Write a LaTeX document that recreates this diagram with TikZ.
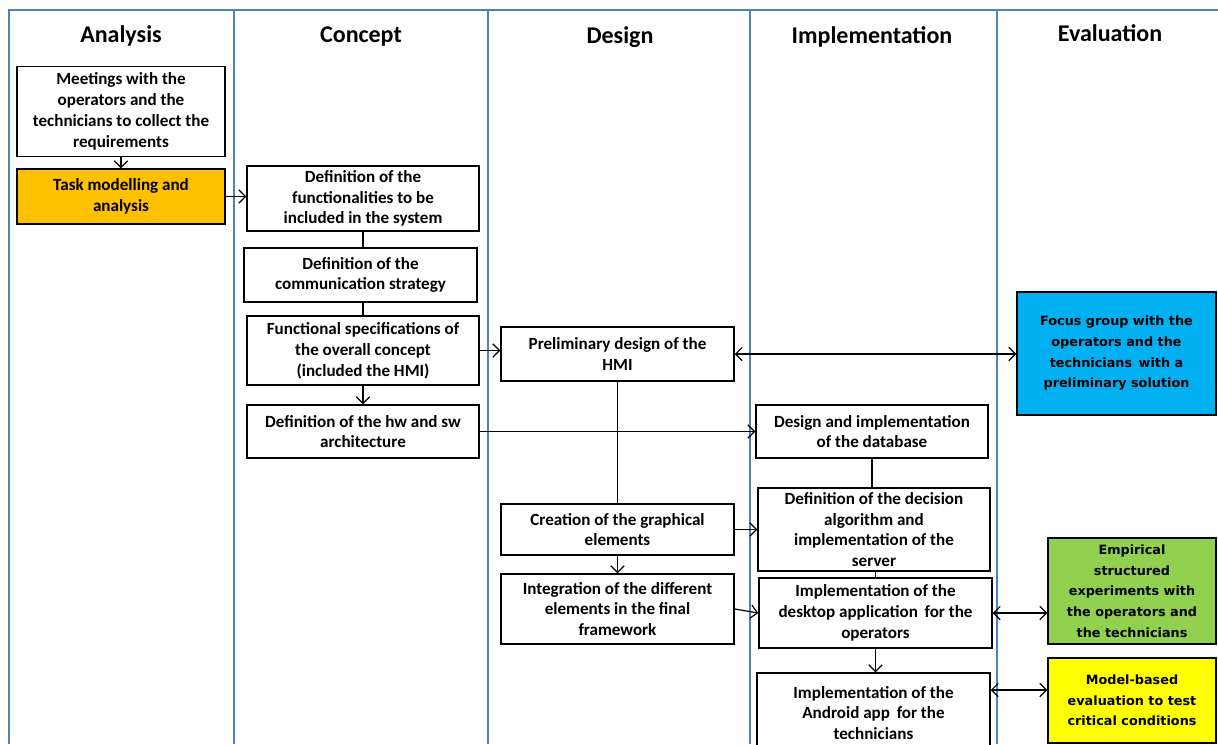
\documentclass[tikz,border=0pt]{standalone}
\usepackage{fontspec}
\setmainfont{Carlito}
\newfontfamily\evalfont{DejaVu Sans}
\usetikzlibrary{arrows.meta,calc}
\definecolor{lane}{RGB}{79,129,189}
\definecolor{orangefill}{HTML}{FFC000}
\definecolor{bluefill}{HTML}{00B0F0}
\definecolor{greenfill}{HTML}{92D050}
\definecolor{yellowfill}{HTML}{FFFF00}
\begin{document}
\begin{tikzpicture}[x=0.75pt,y=-0.75pt,
  sz/.style 2 args={minimum width=#1*0.75pt, minimum height=#2*0.75pt},
  box/.style={draw=black, line width=1.1pt, align=center, inner sep=0pt,
    font=\bfseries\fontsize{12.8}{15.6}\selectfont},
  evbox/.style={draw=black, line width=1.1pt, align=center, inner sep=0pt,
    font=\evalfont\bfseries\fontsize{9.6}{15.5}\selectfont},
  head/.style={font=\bfseries\fontsize{18}{22}\selectfont, inner sep=0pt, anchor=base},
  lanel/.style={draw=lane, line width=1.3pt},
  conn/.style={line width=0.9pt},
  arr/.style={conn, -{Straight Barb[length=5pt,width=10pt]}},
  dbl/.style={conn, {Straight Barb[length=5pt,width=10pt]}-{Straight Barb[length=5pt,width=10pt]}}
]
\useasboundingbox (0,0) rectangle (1218,744);
\fill[white] (0,0) rectangle (1218,744);
\clip (0,0) rectangle (1218,744);

% swim lanes
\draw[lanel] (9,744) -- (9,10) -- (1218,10);
\foreach \xx in {234,488,750,997} \draw[lanel] (\xx,10) -- (\xx,744);

% headers
\node[head] (hA) at (121,42) {Analysis};
\node[head] (hC) at (361,42) {Concept};
\node[head] (hD) at (620,43) {Design};
\node[head] (hI) at (872,43) {Implementation};
\node[head] (hE) at (1110,41) {Evaluation};

% Analysis
\node[box, sz={208}{90}] (meet) at (121,111.5) {Meetings with the\\operators and the\\technicians to collect the\\requirements};
\node[box, sz={208}{55}, fill=orangefill] (task) at (121,196.5) {Task modelling and\\analysis};

% Concept
\node[box, sz={232}{65}] (func) at (363,198.5) {Definition of the\\functionalities to be\\included in the system};
\node[box, sz={233}{54}] (comm) at (360.5,275) {Definition of the\\communication strategy};
\node[box, sz={232}{69}] (spec) at (363,350.5) {Functional specifications of\\the overall concept\\(included the HMI)};
\node[box, sz={232}{53}] (hwsw) at (363,431.5) {Definition of the hw and sw\\architecture};

% Design
\node[box, sz={233}{54}] (prel) at (617.5,354) {Preliminary design of the\\HMI};
\node[box, sz={233}{51}] (crea) at (617.5,529.5) {Creation of the graphical\\elements};
\node[box, sz={233}{70}] (integ) at (617.5,609) {Integration of the different\\elements in the final\\framework};

% Implementation
\node[box, sz={232}{53}] (db) at (872,431.5) {Design and implementation\\of the database};
\node[box, sz={232}{83}] (dec) at (874,529.5) {Definition of the decision\\algorithm and\\implementation of the\\server};
\node[box, sz={233}{70}] (desk) at (875.5,613) {Implementation of the\\desktop application\, for the\\operators};
\node[box, sz={233}{80}] (andr) at (873.5,713) {Implementation of the\\Android app\, for the\\technicians};

% Evaluation
\node[evbox, sz={199}{123}, fill=bluefill] (focus) at (1116.5,353.5) {Focus group with the\\operators and the\\technicians\, with a\\preliminary solution};
\node[evbox, sz={168}{106}, fill=greenfill] (emp) at (1132,591) {Empirical\\structured\\experiments with\\the operators and\\the technicians};
\node[evbox, sz={168}{85}, fill=yellowfill] (model) at (1132,700.5) {Model-based\\evaluation to test\\critical conditions};

% connectors
\draw[arr] (meet) -- (task);
\draw[arr] (task.east) -- (task.east -| func.west);
\draw[conn] (func) -- (comm.north -| func.south);
\draw[conn] (comm.south -| spec.north) -- (spec);
\draw[arr] (spec) -- (hwsw);
\draw[arr] (spec.east) -- (spec.east -| prel.west);
\draw[dbl] (prel.east) -- (prel.east -| focus.west);
\draw[conn] (prel) -- (crea);
\draw[arr] (hwsw.east) -- (hwsw.east -| db.west);
\draw[conn] (db) -- (db.south |- dec.north);
\draw[arr] (crea.east) -- (crea.east -| dec.west);
\draw[arr] (crea) -- (integ);
\draw[arr] (integ.east) -- (desk.west);
\draw[conn] (dec.south -| desk.north) -- (desk.north);
\draw[arr] (desk) -- (desk.south |- andr.north);
\draw[dbl] (desk.east) -- (desk.east -| emp.west);
\draw[dbl] (andr.east |- {(0,690)}) -- (model.west |- {(0,690)});
\end{tikzpicture}
\end{document}
